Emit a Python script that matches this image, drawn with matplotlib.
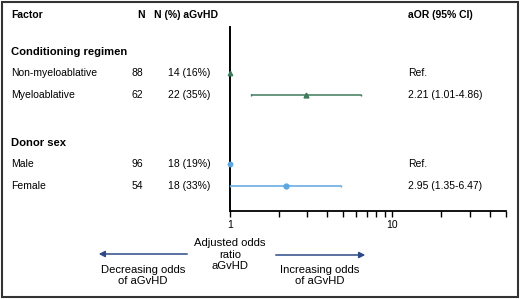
import matplotlib
matplotlib.use("Agg")
import matplotlib.pyplot as plt
from matplotlib.patches import Rectangle
from matplotlib.ticker import LogLocator, NullFormatter, FixedLocator, FixedFormatter

plt.rcParams['font.family'] = ['Liberation Sans', 'DejaVu Sans']

# ---- data ----
factors = ["Non-myeloablative", "Myeloablative", "Male", "Female"]
groups = ["Conditioning regimen", "Conditioning regimen", "Donor sex", "Donor sex"]
n_values = [88, 62, 96, 54]
n_agvhd = ["14 (16%)", "22 (35%)", "18 (19%)", "18 (33%)"]
aor_text = ["Ref.", "2.21 (1.01-4.86)", "Ref.", "2.95 (1.35-6.47)"]
# plotted estimates as drawn in the figure
est = [1.0, 2.95, 1.0, 2.21]
ci_low = [None, 1.35, None, 1.01]
ci_high = [None, 6.47, None, 4.86]
colors = ["#3d7a5c", "#3d7a5c", "#5ea6e0", "#5ea6e0"]
markers = ["^", "^", "o", "o"]
x_ticks = [1, 10]
x_ticklabels = ["1", "10"]

# ---- layout (pixel rows from top) ----
W, H = 520, 299
fig = plt.figure(figsize=(W / 100, H / 100), dpi=100)
row_y = [73, 95, 164, 186]
group_y = {"Conditioning regimen": 52, "Donor sex": 143}
header_y = 15

ax_left, ax_right = 229.7, 505.6
ax_top, ax_bot = 27, 210.7
ax = fig.add_axes([ax_left / W, 1 - ax_bot / H, (ax_right - ax_left) / W, (ax_bot - ax_top) / H])
ax.set_xscale("log")
ax.set_xlim(1, 50)
ax.set_ylim(ax_bot, ax_top)
ax.patch.set_alpha(0)
for s in ["top", "right"]:
    ax.spines[s].set_visible(False)
ax.spines["left"].set_linewidth(1.4)
ax.spines["bottom"].set_linewidth(1.3)
ax.set_yticks([])
ax.xaxis.set_major_locator(FixedLocator(x_ticks))
ax.xaxis.set_major_formatter(FixedFormatter(x_ticklabels))
ax.xaxis.set_minor_locator(LogLocator(base=10, subs=range(2, 10)))
ax.xaxis.set_minor_formatter(NullFormatter())
ax.tick_params(axis="x", which="both", direction="out", length=4, width=1.0,
               labelsize=7.5, pad=2.5)

for i in range(len(factors)):
    y = row_y[i]
    if ci_low[i] is not None:
        ax.errorbar(est[i], y, xerr=[[est[i] - ci_low[i]], [ci_high[i] - est[i]]],
                    fmt=markers[i], color=colors[i], ms=3.5, elinewidth=1.1,
                    capsize=1, capthick=1, clip_on=False, zorder=3)
    else:
        ax.plot([est[i]], [y], marker=markers[i], color=colors[i], ms=3.2,
                clip_on=False, zorder=3)

def ftext(x, y, s, **kw):
    fig.text(x / W, 1 - y / H, s, va="center", **kw)

fs = 7.5
ftext(11, header_y, "Factor", fontsize=fs, fontweight="bold")
ftext(141, header_y, "N", fontsize=fs, fontweight="bold", ha="center")
ftext(154, header_y, "N (%) aGvHD", fontsize=fs, fontweight="bold")
ftext(408, header_y, "aOR (95% CI)", fontsize=fs, fontweight="bold")

for g, gy in group_y.items():
    ftext(11, gy, g, fontsize=8.1, fontweight="bold")

for i in range(len(factors)):
    y = row_y[i]
    ftext(11, y, factors[i], fontsize=fs)
    ftext(137.5, y, str(n_values[i]), fontsize=fs, ha="center")
    ftext(189, y, n_agvhd[i], fontsize=fs, ha="center")
    ftext(408, y, aor_text[i], fontsize=fs)

fs2 = 8.1
ftext(230, 254.5, "Adjusted odds\nratio\naGvHD", fontsize=fs2, ha="center",
      linespacing=1.2)
ftext(143, 275.5, "Decreasing odds\nof aGvHD", fontsize=fs2, ha="center", linespacing=1.1)
ftext(320, 275.5, "Increasing odds\nof aGvHD", fontsize=fs2, ha="center", linespacing=1.1)

arrow_c = "#2d4a86"
fig.add_artist(matplotlib.patches.FancyArrowPatch(
    (190 / W, 1 - 254 / H), (96 / W, 1 - 254 / H), transform=fig.transFigure,
    arrowstyle="-|>,head_length=3.5,head_width=1.8", color=arrow_c, lw=1.1))
fig.add_artist(matplotlib.patches.FancyArrowPatch(
    (273 / W, 1 - 255 / H), (368 / W, 1 - 255 / H), transform=fig.transFigure,
    arrowstyle="-|>,head_length=3.5,head_width=1.8", color=arrow_c, lw=1.1))

fig.add_artist(Rectangle((1.5 / W, 2 / H), 516.5 / W, 295.5 / H, transform=fig.transFigure,
                         fill=False, edgecolor="#333333", lw=1.5))

fig.savefig("out.png", dpi=100)
